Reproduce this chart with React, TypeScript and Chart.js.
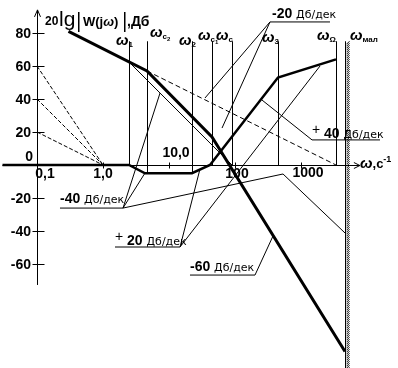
import React, { useEffect, useRef } from "react";
import { Chart, registerables } from "chart.js";
Chart.register(...registerables);

// characteristic frequencies, rad/s
const markerW = [2.48, 4.64, 22.3, 44.8, 90, 448, 3390];
const markerSub = ["1", "c2", "2", "c1", "c", "3", "Ω"];
const markerBottom = [0, -5, -5, 0, 0, 0, 0];
const markerTop = 75;
const wMal = 4640;

const yTicks = [80, 60, 40, 20, 0, -20, -40, -60];
const xTicks = [0.1, 1, 10, 100, 1000];
const xTickLabels = ["0,1", "1,0", "10,0", "100", "1000"];

// desired LAFC (thick)
const desiredW = [0.3, 4.64, 44.8, 4640];
const desiredDb = [81, 57, 17, -113];
// correcting LAFC (thick)
const corrW = [0.03, 2.48, 4.33, 22.3, 41.8, 448, 3390];
const corrDb = [0, 0, -5, -5, 0, 53, 64];

// construction lines
const ref60W = [0.1, 1], ref60Db = [60, 0];
const ref40W = [0.1, 1], ref40Db = [40, 0];
const ref20W = [0.1, 1], ref20Db = [20, 0];
const minus20W = [4.64, 3390], minus20Db = [57, 0];
const minus40W = [2.48, 90], minus40Db = [62.4, 0];

// leaders of slope labels
const lead20aW = [339, 35.1], lead20aDb = [86.7, 40.6];
const lead20bW = [339, 63.6], lead20bDb = [86.7, 22.4];
const under20W = [339, 2750], under20Db = [86.7, 86.7];
const leadP40W = [1468, 256], leadP40Db = [15.2, 39.4];
const underP40W = [1468, 15740], underP40Db = [15.2, 15.2];
const leadM40aW = [2.01, 4.33], leadM40aDb = [-26.1, -4.85];
const leadM40bW = [2.01, 7.31], leadM40bDb = [-26.1, 43.6];
const leadM40cW = [2.01, 534, 4642], leadM40cDb = [-26.1, -5.45, -41.2];
const underM40W = [0.223, 2.01], underM40Db = [-26.1, -26.1];
const leadP20aW = [14.7, 1941], leadP20aDb = [-49.7, 60];
const leadP20bW = [14.7, 29.5], leadP20bDb = [-49.7, -2.4];
const underP20W = [1.52, 14.7], underP20Db = [-49.7, -49.7];
const leadM60W = [201, 377], leadM60Db = [-66.7, -43];
const underM60W = [20.8, 201], underM60Db = [-66.7, -66.7];

const NUM = 'bold 14px "Liberation Sans Narrow", "Liberation Sans", sans-serif';
const OMEGA = 'bold italic 15px "Liberation Sans", sans-serif';
const SMALL = '11px "DejaVu Sans", sans-serif';

function line(w: number[], db: number[], width: number, dash: number[] = []) {
  return {
    data: w.map((x, i) => ({ x, y: db[i] })),
    borderColor: "#000",
    borderWidth: width,
    borderDash: dash,
    pointRadius: 0,
    fill: false,
    tension: 0,
    clip: false as any,
  };
}

function runs(ctx: CanvasRenderingContext2D, x: number, y: number, parts: [string, string, number?][]) {
  for (const [t, f, dy] of parts) {
    ctx.font = f;
    ctx.fillText(t, x, y + (dy || 0));
    x += ctx.measureText(t).width;
  }
}

const drawPlugin = {
  id: "bode",
  beforeDatasetsDraw(chart: any) {
    const ctx: CanvasRenderingContext2D = chart.ctx;
    const xs = chart.scales.x, ys = chart.scales.y;
    const X = (w: number) => xs.getPixelForValue(w);
    const Y = (d: number) => ys.getPixelForValue(d);
    ctx.save();
    ctx.strokeStyle = "#000";
    ctx.fillStyle = "#000";
    ctx.lineWidth = 1;
    // x axis
    const y0 = Math.round(Y(0)) + 0.5;
    const xEnd = X(7800);
    ctx.beginPath();
    ctx.moveTo(X(0.03), y0);
    ctx.lineTo(xEnd, y0);
    ctx.moveTo(xEnd - 6, y0 - 3);
    ctx.lineTo(xEnd, y0);
    ctx.lineTo(xEnd - 6, y0 + 3);
    ctx.stroke();
    // y axis
    const xa = Math.round(X(0.1)) + 0.5;
    const yTop = Y(94);
    ctx.beginPath();
    ctx.moveTo(xa, Y(-72.7));
    ctx.lineTo(xa, yTop);
    ctx.moveTo(xa - 3, yTop + 7);
    ctx.lineTo(xa, yTop);
    ctx.lineTo(xa + 3, yTop + 7);
    ctx.stroke();
    // y ticks
    ctx.beginPath();
    for (const v of yTicks) {
      if (v === 0) continue;
      const yy = Math.round(Y(v)) + 0.5;
      ctx.moveTo(xa - 5, yy);
      ctx.lineTo(xa + 7, yy);
    }
    // x ticks
    for (const w of xTicks.slice(1)) {
      const xx = Math.round(X(w)) + 0.5;
      ctx.moveTo(xx, y0 - 3);
      ctx.lineTo(xx, y0 + 3);
    }
    ctx.stroke();
    // vertical markers
    ctx.beginPath();
    markerW.forEach((w, i) => {
      const xx = Math.round(X(w)) + 0.5;
      ctx.moveTo(xx, Y(markerTop));
      ctx.lineTo(xx, Y(markerBottom[i]));
    });
    ctx.stroke();
    // hatched wall
    const xm = Math.round(X(wMal)) + 0.5;
    const wt = Y(markerTop);
    const wb = chart.height;
    ctx.beginPath();
    ctx.moveTo(xm, wt);
    ctx.lineTo(xm, wb);
    for (let yy = wt; yy < wb; yy += 2) {
      ctx.moveTo(xm + 1, yy + 3);
      ctx.lineTo(xm + 4, yy);
    }
    ctx.stroke();
    ctx.restore();
  },
  afterDraw(chart: any) {
    const ctx: CanvasRenderingContext2D = chart.ctx;
    const xs = chart.scales.x, ys = chart.scales.y;
    const X = (w: number) => xs.getPixelForValue(w);
    const Y = (d: number) => ys.getPixelForValue(d);
    ctx.save();
    ctx.fillStyle = "#000";
    ctx.textBaseline = "alphabetic";
    const xa = X(0.1);
    // y tick labels
    ctx.font = NUM;
    ctx.textAlign = "right";
    for (const v of yTicks) {
      if (v === 0) ctx.fillText("0", xa - 4, Y(0) - 4);
      else ctx.fillText(String(v), xa - 6, Y(v) + 5);
    }
    // x tick labels
    ctx.textAlign = "center";
    const dx = [8, 0, 7, 2, 7];
    const dyb = [13, 13, -8, 13, 12];
    xTicks.forEach((w, i) => {
      ctx.fillText(xTickLabels[i], X(w) + dx[i], Y(0) + dyb[i]);
    });
    ctx.textAlign = "left";
    // axis titles
    runs(ctx, 45, 25, [["20", 'bold 12px "Liberation Sans Narrow", "Liberation Sans", sans-serif']]);
    runs(ctx, 59, 26, [["lg", '21px "Liberation Sans", sans-serif']]);
    ctx.fillRect(78, 12, 1.5, 20);
    runs(ctx, 83, 26, [["W(j", 'bold 13px "Liberation Sans", sans-serif'], ["ω", 'bold italic 13px "Liberation Sans", sans-serif'], [")", 'bold 13px "Liberation Sans", sans-serif']]);
    ctx.fillRect(124, 12, 1.5, 20);
    runs(ctx, 127, 26, [[",Дб", 'bold 14px "Liberation Sans", sans-serif']]);
    runs(ctx, 360, 168, [["ω", OMEGA], [",c", 'bold 13px "Liberation Sans", sans-serif'], ["-1", 'bold 9px "Liberation Sans", sans-serif', -6]]);
    // marker labels
    const lx = [116, 150, 179, 198, 216, 262, 317];
    const ly = [45, 37, 45, 40, 40, 42, 40];
    markerW.forEach((w, i) => {
      const sub = markerSub[i];
      const parts: [string, string, number?][] = [["ω", OMEGA]];
      if (sub.length === 2) {
        parts.push([sub[0], 'bold 8px "Liberation Sans", sans-serif', 2]);
        parts.push([sub[1], 'bold 6px "Liberation Sans", sans-serif', 4]);
      } else parts.push([sub, 'bold 8px "Liberation Sans", sans-serif', 2]);
      runs(ctx, lx[i], ly[i], parts);
    });
    runs(ctx, 350, 40, [["ω", OMEGA], ["мал", 'bold 8px "Liberation Sans", sans-serif', 2]]);
    // slope labels
    runs(ctx, 272, 18, [["-20 ", NUM], ["Дб/дек", SMALL]]);
    runs(ctx, 312, 138, [["+", '14px "Liberation Sans", sans-serif', -4], [" 40 ", NUM], ["Дб/дек", SMALL]]);
    runs(ctx, 60, 203, [["-40 ", NUM], ["Дб/дек", SMALL]]);
    runs(ctx, 115, 245, [["+", '14px "Liberation Sans", sans-serif', -4], [" 20 ", NUM], ["Дб/дек", SMALL]]);
    runs(ctx, 190, 271, [["-60 ", NUM], ["Дб/дек", SMALL]]);
    ctx.restore();
  },
};

export default function App() {
  const ref = useRef<HTMLCanvasElement>(null);
  useEffect(() => {
    if (!ref.current) return;
    const datasets = [
      line(ref60W, ref60Db, 1, [4, 2]),
      line(ref40W, ref40Db, 1, [4, 2]),
      line(ref20W, ref20Db, 1, [4, 2]),
      line(minus20W, minus20Db, 1, [5, 3]),
      line(minus40W, minus40Db, 1),
      line(lead20aW, lead20aDb, 1),
      line(lead20bW, lead20bDb, 1),
      line(under20W, under20Db, 1),
      line(leadP40W, leadP40Db, 1),
      line(underP40W, underP40Db, 1),
      line(leadM40aW, leadM40aDb, 1),
      line(leadM40bW, leadM40bDb, 1),
      line(leadM40cW, leadM40cDb, 1),
      line(underM40W, underM40Db, 1),
      line(leadP20aW, leadP20aDb, 1),
      line(leadP20bW, leadP20bDb, 1),
      line(underP20W, underP20Db, 1),
      line(leadM60W, leadM60Db, 1),
      line(underM60W, underM60Db, 1),
      line(corrW, corrDb, 2.5),
      line(desiredW, desiredDb, 3),
    ];
    const chart = new Chart(ref.current, {
      type: "line",
      data: { datasets: datasets as any },
      options: {
        responsive: false,
        animation: false,
        layout: { padding: 0 },
        plugins: { legend: { display: false }, tooltip: { enabled: false } },
        scales: {
          x: { type: "logarithmic", display: false, min: 0.027505, max: 29490, bounds: "data" } as any,
          y: { type: "linear", display: false, min: -123.03, max: 100, bounds: "data" } as any,
        },
      },
      plugins: [drawPlugin],
    });
    return () => chart.destroy();
  }, []);
  return (
    <div style={{ position: "fixed", left: 0, top: 0, width: 398, height: 368, background: "#fff" }}>
      <canvas ref={ref} width={398} height={368} />
    </div>
  );
}
